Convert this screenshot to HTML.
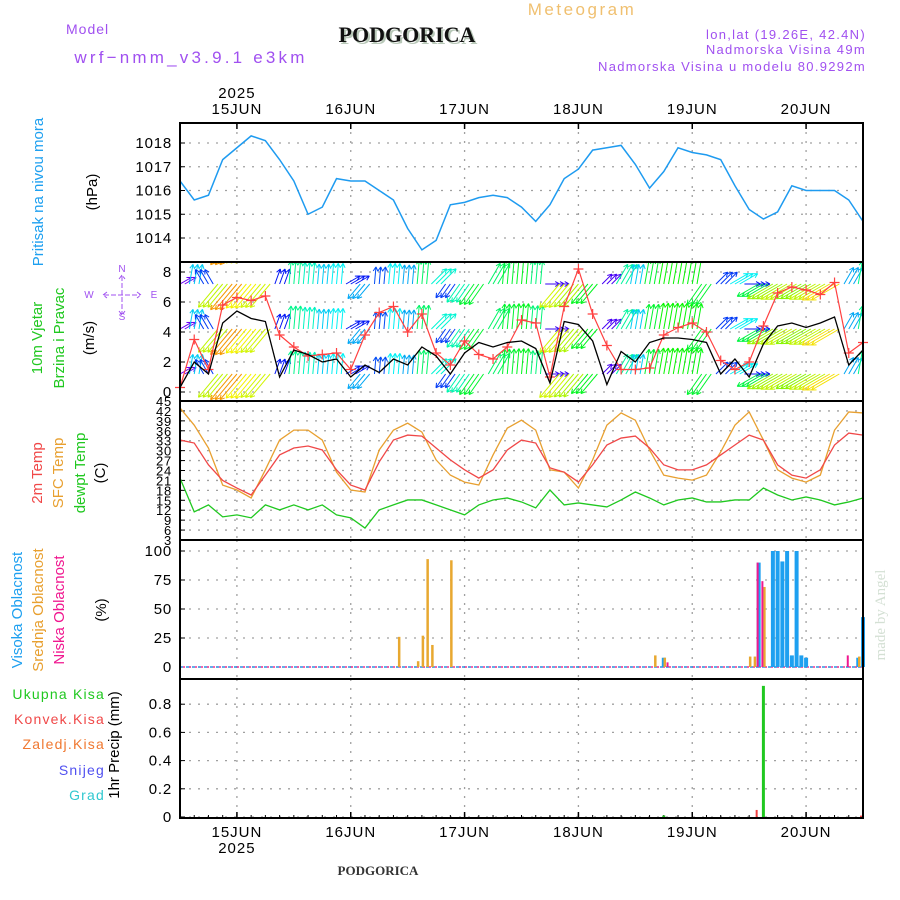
<!DOCTYPE html>
<html><head><meta charset="utf-8"><title>Meteogram PODGORICA</title>
<style>
html,body{margin:0;padding:0;background:#fff;}
svg{display:block;font-family:"Liberation Sans",sans-serif;}
</style></head>
<body>
<svg id="chart" width="900" height="900" viewBox="0 0 900 900" xmlns="http://www.w3.org/2000/svg">
<defs>
<clipPath id="clipWind"><rect x="181" y="263" width="681" height="137"/></clipPath>
</defs>
<rect x="0" y="0" width="900" height="900" fill="#fff"/>
<text x="582" y="15" font-size="17" letter-spacing="2.5" fill="#f0c070" text-anchor="middle">Meteogram</text>
<text x="66" y="34" font-size="14" letter-spacing="1" fill="#a050f0">Model</text>
<text x="191" y="63" font-size="17" letter-spacing="3.2" fill="#a050f0" text-anchor="middle">wrf−nmm_v3.9.1  e3km</text>
<text x="409" y="44" font-size="22" font-weight="bold" font-family="Liberation Serif,serif" fill="#b8c8b8" text-anchor="middle">PODGORICA</text>
<text x="407" y="42" font-size="22" font-weight="bold" font-family="Liberation Serif,serif" fill="#111" text-anchor="middle">PODGORICA</text>
<text x="866" y="39" font-size="13" letter-spacing="1.3" fill="#a050f0" text-anchor="end">lon,lat (19.26E, 42.4N)</text>
<text x="866" y="54" font-size="13" letter-spacing="1.3" fill="#a050f0" text-anchor="end">Nadmorska Visina 49m</text>
<text x="866" y="71" font-size="13" letter-spacing="1.3" fill="#a050f0" text-anchor="end">Nadmorska Visina u modelu 80.9292m</text>
<g id="layer"></g>
<text x="378" y="875" font-size="13" font-weight="bold" font-family="Liberation Serif,serif" fill="#333" text-anchor="middle">PODGORICA</text>
<text x="0" y="0" transform="translate(885,615) rotate(-90)" font-size="15" font-family="Liberation Serif,serif" fill="#d4e0d4" text-anchor="middle">made by Angel</text>
</svg>
<script>
// ---- data (3-hourly from 14 Jun 12Z) ----
const pressure = [1016.4,1015.6,1015.8,1017.3,1017.8,1018.3,1018.1,1017.3,1016.4,1015.0,1015.3,1016.5,1016.4,1016.4,1016.0,1015.6,1014.4,1013.5,1013.9,1015.4,1015.5,1015.7,1015.8,1015.7,1015.3,1014.7,1015.4,1016.5,1016.9,1017.7,1017.8,1017.9,1017.1,1016.1,1016.8,1017.8,1017.6,1017.5,1017.3,1016.2,1015.2,1014.8,1015.1,1016.2,1016.0,1016.0,1016.0,1015.6,1014.7];
const windSpeed = [0.3,2.0,1.2,4.6,5.4,4.9,4.7,1.0,2.8,2.5,2.0,2.2,1.0,1.8,1.3,2.2,1.8,3.0,2.4,1.2,2.6,3.3,3.0,3.3,3.4,2.9,0.6,4.7,4.5,3.4,0.5,2.7,2.0,3.3,3.6,3.6,3.5,3.3,1.2,2.2,1.0,3.2,4.4,4.6,4.3,4.6,5.0,1.8,2.8];
const windGust = [0.3,3.5,1.5,5.8,6.3,6.1,6.4,3.8,3.0,2.4,2.5,2.6,1.5,3.8,5.3,5.7,4.0,5.2,2.6,1.8,3.4,2.5,2.2,3.0,4.8,4.6,1.0,5.7,8.2,5.2,3.1,1.5,1.5,1.6,3.8,4.3,4.6,4.0,2.1,1.5,2.0,4.4,6.6,7.0,6.8,6.5,7.3,2.6,3.3];
const windDirTo = [60,10,330,220,220,220,220,20,5,5,5,5,60,220,5,5,5,5,45,215,215,215,30,5,5,5,90,220,220,220,45,30,10,10,10,10,10,215,45,60,90,240,240,240,240,240,240,30,10];
const temp2m = [33.2,32.3,25.7,21.0,18.7,16.6,22.6,28.7,30.8,31.4,30.2,24.2,19.6,18.1,26.6,33.2,34.7,34.4,30.8,27.2,24.2,21.7,24.2,30.2,33.2,32.3,24.8,23.5,20.5,25.7,31.7,33.8,34.4,30.8,25.7,24.2,24.2,25.7,28.7,31.7,34.7,33.2,25.7,22.6,21.7,24.2,31.7,35.3,34.7];
const tempSfc = [42.9,37.7,30.8,19.6,18.1,15.7,24.2,33.2,36.2,36.2,33.2,23.5,18.1,17.5,30.2,36.2,38.3,35.6,27.2,22.6,20.5,19.6,28.7,36.8,39.2,36.2,24.2,23.5,18.7,27.2,37.7,41.4,39.2,30.2,22.6,21.7,21.1,22.6,29.6,37.7,41.7,33.2,24.2,21.7,20.5,22.6,36.2,41.7,41.4];
const dewpoint = [21.7,11.5,13.6,10.0,10.6,9.7,13.6,12.1,13.6,12.1,13.6,10.6,9.7,6.6,12.1,13.6,15.1,15.1,13.6,12.1,10.6,13.6,15.1,15.7,14.5,12.7,18.1,13.6,14.2,13.6,13.0,15.1,17.5,15.7,13.6,15.1,15.7,14.5,14.5,15.1,15.1,18.7,16.6,15.1,16.0,15.1,13.6,14.5,15.7];
// cloud cover (hour index from start, percent)
const highHours = [102,122,125,126,127,128,129,130,131,132,143,144];
const highVals  = [8,90,100,100,91,100,10,100,10,8,8,43];
const midHours  = [46,50,51,52,53,57,100,102,120,121,123,143];
const midVals   = [26,5,27,93,19,92,10,8,9,9,69,9];
const lowHours  = [103,122,123,141];
const lowVals   = [4,90,74,10];
// precipitation (hour index, mm)
const totalHours = [102,123];
const totalVals  = [0.01,0.93];
const convHours  = [122,144];
const convVals   = [0.05,0.01];
// ticks
const dayLabels = ["15JUN","16JUN","17JUN","18JUN","19JUN","20JUN"];
const dayValues = [15,16,17,18,19,20];
const pTicks = [1014,1015,1016,1017,1018];
const wTicks = [0,2,4,6,8];
const tTicks = [3,6,9,12,15,18,21,24,27,30,33,36,39,42,45];
const cTicks = [0,25,50,75,100];
const rTicks = [0,0.2,0.4,0.6,0.8];

// ---- scales ----
const X0=180, X1=863;
const xT = t => X0 + (t-14.5)*(X1-X0)/6;
const xI = i => xT(14.5 + i/8);
const xH = h => xT(14.5 + h/24);
const yP = p => 143 + (1018-p)*23.75;
const yW = v => 392 - v*15;
const yTm = v => 401 + (45-v)*139/42;
const yC = v => 667 - v*1.16;
const yR = v => 817 - v*141;

const NS="http://www.w3.org/2000/svg";
const layer=document.getElementById('layer');
function mk(tag, attrs, parent){const e=document.createElementNS(NS,tag);for(const k in attrs)e.setAttribute(k,attrs[k]);(parent||layer).appendChild(e);return e;}
function txt(s, attrs, parent){const e=mk('text',attrs,parent);e.textContent=s;return e;}

const panels=[[123,262],[262,401],[401,540],[540,679],[679,818]];
// gridlines
const grid=mk('g',{stroke:'#a0a0a0','stroke-width':1.3,'stroke-dasharray':'2,7'});


panels.forEach(p=>{dayValues.forEach(d=>{const l=mk('line',{x1:xT(d),x2:xT(d),y1:p[0],y2:p[1]},grid);

});});
function hgrid(vals, f){vals.forEach(v=>{const l=mk('line',{x1:X0,x2:X1,y1:f(v),y2:f(v)},grid);

});}
hgrid(pTicks,yP);hgrid(wTicks,yW);hgrid(tTicks,yTm);hgrid(cTicks,yC);hgrid(rTicks,yR);

// tick labels
function yticks(vals,f,fmt,size,name){vals.forEach(v=>{const t=txt(fmt(v),{x:172,y:f(v)+5,'font-size':size,'letter-spacing':0.8,'text-anchor':'end',fill:'#000'});


const k=mk('line',{x1:X0,x2:X0+5,y1:f(v),y2:f(v),stroke:'#000','stroke-width':1});

});}
yticks(pTicks,yP,v=>String(v),15,'pressure-tick-label');
yticks(wTicks,yW,v=>String(v),15,'wind-tick-label');
yticks(tTicks,yTm,v=>String(v),13,'temp-tick-label');
yticks(cTicks,yC,v=>String(v),15,'cloud-tick-label');
yticks(rTicks,yR,v=>v===0?'0':v.toFixed(1),15,'precip-tick-label');

// x axis labels
dayValues.forEach((d,i)=>{
const a=txt(dayLabels[i],{x:xT(d),y:114,'font-size':15,'letter-spacing':1,'text-anchor':'middle',fill:'#000'});


const b=txt(dayLabels[i],{x:xT(d),y:837,'font-size':15,'letter-spacing':1,'text-anchor':'middle',fill:'#000'});


[[123,129],[812,818]].forEach(r=>{const k=mk('line',{x1:xT(d),x2:xT(d),y1:r[0],y2:r[1],stroke:'#000','stroke-width':1.5});

});
});
for(let i=0;i<=48;i++){const k=mk('line',{x1:xI(i),x2:xI(i),y1:818,y2:815,stroke:'#000','stroke-width':1});

}
const y1=txt('2025',{x:xT(15),y:98,'font-size':15,'letter-spacing':1,'text-anchor':'middle',fill:'#000'});


const y2=txt('2025',{x:xT(15),y:853,'font-size':15,'letter-spacing':1,'text-anchor':'middle',fill:'#000'});



// pressure line
const pl=mk('polyline',{points:pressure.map((v,i)=>xI(i)+','+yP(v)).join(' '),fill:'none',stroke:'#1e9bf0','stroke-width':1.5});



// wind arrows
const wg=mk('g',{'clip-path':'url(#clipWind)','stroke-width':1});


const bases=[1.2,4.2,7.2,10.2];
for(let h=0;h<=144;h++){
 const i=Math.min(48,Math.round(h/3));
 const sp=windSpeed[i], a=windDirTo[i]*Math.PI/180;
 const hue=Math.max(0,Math.min(280,280-sp*45));
 const col='hsl('+hue+',100%,48%)';
 const len=12+sp*4;
 bases.forEach(b=>{
  const x0=xH(h), y0=yW(b);
  const x1=x0+len*Math.sin(a), y1=y0-len*Math.cos(a);
  const ar=mk('path',{d:'M'+x0+' '+y0+'L'+x1+' '+y1+
   'M'+x1+' '+y1+'L'+(x1-5*Math.sin(a-0.5))+' '+(y1+5*Math.cos(a-0.5))+
   'M'+x1+' '+y1+'L'+(x1-5*Math.sin(a+0.5))+' '+(y1+5*Math.cos(a+0.5)),stroke:col,fill:'none'},wg);
  
  
 });
}
const gl=mk('polyline',{points:windGust.map((v,i)=>xI(i)+','+yW(v)).join(' '),fill:'none',stroke:'#ff4040','stroke-width':1.2});


windGust.forEach((v,i)=>{const m=mk('path',{d:'M'+(xI(i)-5)+' '+yW(v)+'h10M'+xI(i)+' '+(yW(v)-5)+'v10',stroke:'#ff4040','stroke-width':1.2});

});
const sl=mk('polyline',{points:windSpeed.map((v,i)=>xI(i)+','+yW(v)).join(' '),fill:'none',stroke:'#000','stroke-width':1.3});



// temperatures
[[tempSfc,'#e8a030','sfc-temp-line'],[temp2m,'#f04848','temp-2m-line'],[dewpoint,'#20c820','dewpoint-line']].forEach(s=>{
const l=mk('polyline',{points:s[0].map((v,i)=>xI(i)+','+yTm(v)).join(' '),fill:'none',stroke:s[1],'stroke-width':1.3});

});

// clouds
const base=mk('line',{x1:X0,x2:X1,y1:yC(0),y2:yC(0),stroke:'#3090e0','stroke-width':1.5,'stroke-dasharray':'3,3'});


const base2=mk('line',{x1:X0+3,x2:X1,y1:yC(0),y2:yC(0),stroke:'#f03090','stroke-width':1.5,'stroke-dasharray':'2,4'});


function bars(hours,vals,f,col,w,off,name){hours.forEach((h,k)=>{const x=xH(h)+off;const b=mk('rect',{x:x-w/2,y:f(vals[k]),width:w,height:Math.max(0.5,f(0)-f(vals[k])),fill:col});

});}
bars(highHours,highVals,yC,'#1ea0f0',4,0,'high-cloud-bar');
bars(midHours,midVals,yC,'#e8a830',2.5,1,'mid-cloud-bar');
bars(lowHours,lowVals,yC,'#f01890',2,-1,'low-cloud-bar');
// precip
bars(totalHours,totalVals,yR,'#20c820',3,0,'total-precip-bar');
bars(convHours,convVals,yR,'#f04040',2,-2,'convective-precip-bar');

// panel frames
panels.forEach((p,k)=>{const r=mk('rect',{x:X0,y:p[0],width:X1-X0,height:p[1]-p[0],fill:'none',stroke:'#000','stroke-width':2});

});

// left axis titles
function vt(s,x,y,col,size,name){const t=txt(s,{x:0,y:0,transform:'translate('+x+','+y+') rotate(-90)','font-size':size,'text-anchor':'middle',fill:col});

}
vt('Pritisak na nivou mora',43,192,'#1ea0f0',15,'pressure-title');
vt('(hPa)',97,192,'#000',15,'pressure-unit');
vt('10m Vjetar',42,338,'#20c820',15,'wind-title-1');
vt('Brzina i Pravac',64,338,'#20c820',15,'wind-title-2');
vt('(m/s)',94,338,'#000',15,'wind-unit');
vt('2m Temp',42,473,'#f04848',15,'temp2m-title');
vt('SFC Temp',63,473,'#e8a030',15,'sfc-temp-title');
vt('dewpt Temp',85,473,'#20c820',15,'dewpt-title');
vt('(C)',105,473,'#000',15,'temp-unit');
vt('Visoka Oblacnost',22,610,'#1ea0f0',15,'high-cloud-title');
vt('Srednja Oblacnost',43,610,'#e8a030',15,'mid-cloud-title');
vt('Niska Oblacnost',64,610,'#f01890',15,'low-cloud-title');
vt('(%)',106,610,'#000',15,'cloud-unit');
vt('1hr Precip (mm)',119,745,'#000',15,'precip-title');
[['Ukupna  Kisa',699,'#20c820','total-rain-legend'],['Konvek.Kisa',724,'#f04848','convective-rain-legend'],['Zaledj.Kisa',749,'#f07830','freezing-rain-legend'],['Snijeg',775,'#5050f0','snow-legend'],['Grad',800,'#30c8d0','hail-legend']].forEach(l=>{
const t=txt(l[0],{x:105,y:l[1],'font-size':14,'letter-spacing':1.2,'text-anchor':'end',fill:l[2]});

});
// compass
const cg=mk('g',{fill:'#a050f0','font-size':10,'text-anchor':'middle'});


[['N',122,272],['S',122,320],['W',89,298],['E',154,298]].forEach(c=>{const t=txt(c[0],{x:c[1],y:c[2]},cg);

});
const cp=mk('path',{d:'M104 295h36M122 276v38M107 292l-4 3l4 3M137 292l4 3l-4 3M119 279l3-4l3 4M119 311l3 4l3-4',stroke:'#a050f0','stroke-width':1,fill:'none','stroke-dasharray':'5,2'},cg);


</script>
</body></html>
